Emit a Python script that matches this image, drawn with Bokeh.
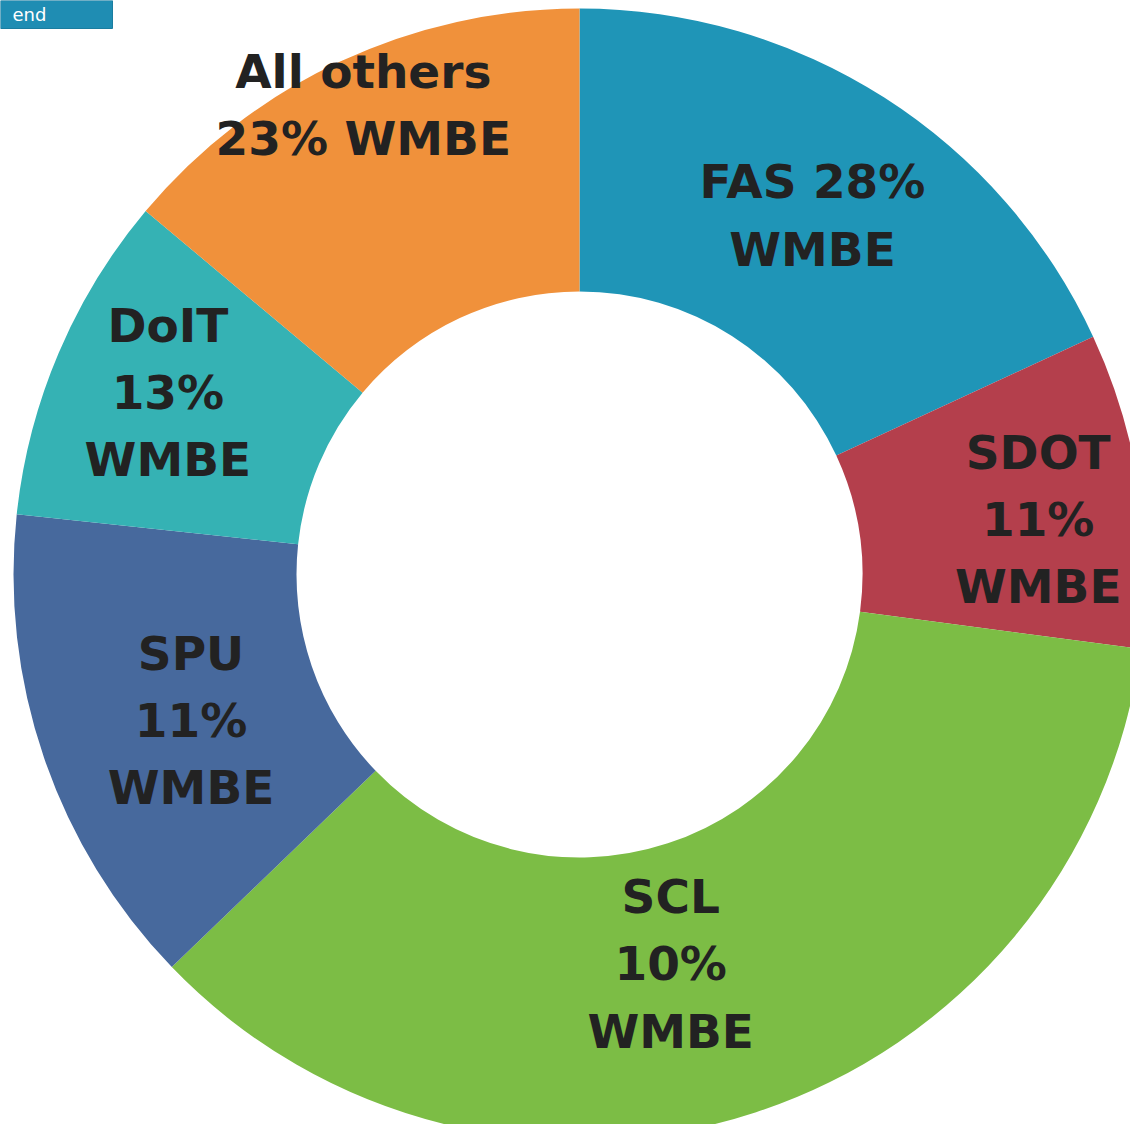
import numpy as np
from bokeh.plotting import figure
from bokeh.models import Range1d, ColumnDataSource
from bokeh.core.properties import value
from bokeh.embed import file_html
from bokeh.resources import INLINE

# ---- data ----
departments = ["FAS", "SDOT", "SCL", "SPU", "DoIT", "All others"]
shares = [18.1, 9.0, 35.7, 13.9, 9.4, 13.9]
wmbe_pct = [28, 11, 10, 11, 13, 23]                   # WMBE percentages in labels
label_texts = ["FAS 28%\nWMBE", "SDOT\n11%\nWMBE", "SCL\n10%\nWMBE",
               "SPU\n11%\nWMBE", "DoIT\n13%\nWMBE", "All others\n23% WMBE"]
colors = ["#1f95b7", "#b43f4c", "#7cbd45", "#47699d", "#35b2b4", "#f0913b"]

# label placement (style): radius and angle offset (degrees) from slice middle
label_r = [428, 462, 400, 415, 450, 517]
label_dang = [-0.4, -1.8, -5.0, 1.7, -0.8, -0.3]

# ---- geometry ----
frac = np.array(shares) / sum(shares)
cum = np.concatenate([[0], np.cumsum(frac)])
theta_start = np.pi / 2 - cum[:-1] * 2 * np.pi
theta_end = np.pi / 2 - cum[1:] * 2 * np.pi
mid = (theta_start + theta_end) / 2 + np.radians(label_dang)
lx = np.array(label_r) * np.cos(mid)
ly = np.array(label_r) * np.sin(mid)

src = ColumnDataSource(dict(dept=departments, start=theta_end, end=theta_start,
                            color=colors, lx=lx, ly=ly, label=label_texts))

# donut centre at (579, 574) from the top-left corner; 1 data unit = 1 px
W, H = 1130, 1124
cx, cy = 579, 574
p = figure(width=W, height=H, output_backend="svg", toolbar_location=None,
           x_range=Range1d(-cx, W - cx), y_range=Range1d(-(H - cy), cy),
           min_border=0, outline_line_color=None, background_fill_color="white")
p.axis.visible = False
p.grid.visible = False

p.annular_wedge(x=0, y=0, inner_radius=283, outer_radius=566,
                start_angle="start", end_angle="end", color="color",
                line_color=None, source=src)

p.text(x="lx", y="ly", text="label", source=src, text_align="center",
       text_baseline="middle", text_font=value("DejaVu Sans"),
       text_font_style="bold", text_font_size="47px", text_color="#222222",
       text_line_height=1.22)

# "Legend" button remnant at top-left
p.quad(left=-cx, right=112 - cx, top=cy, bottom=cy - 28,
       fill_color="#1f8db3", line_color="#1a7da0")
p.text(x=[12 - cx], y=[cy - 14], text=["end"], text_color="white",
       text_font=value("DejaVu Sans"), text_font_size="18px",
       text_baseline="middle")

open("out.html", "w").write(file_html(p, INLINE))
